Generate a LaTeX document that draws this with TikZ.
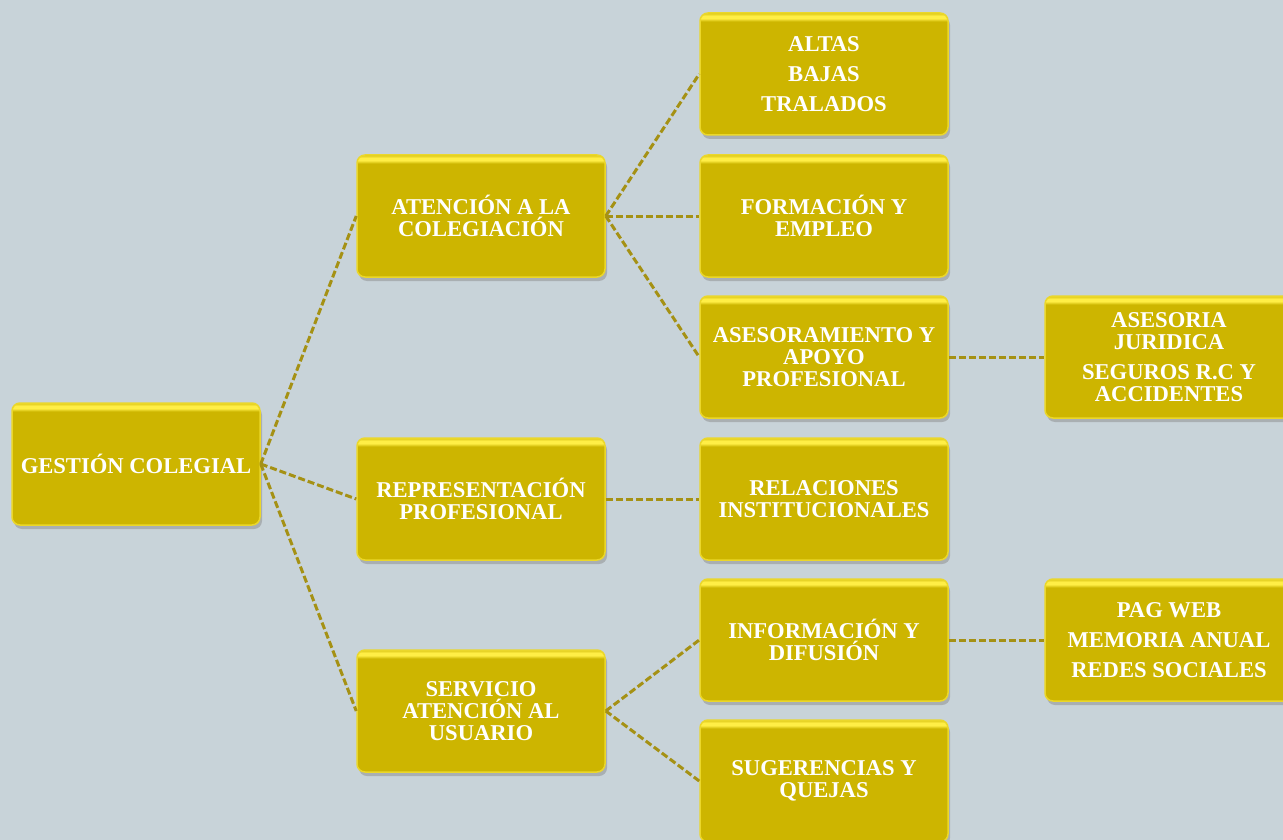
\documentclass[tikz,border=0pt]{standalone}
\usepackage{fontspec}
\setmainfont{Liberation Serif}
\usetikzlibrary{shadows}

\definecolor{fondo}{RGB}{200,211,217}
\definecolor{oro}{RGB}{205,181,0}
\definecolor{oroluz}{RGB}{255,238,70}
\definecolor{linea}{RGB}{165,145,20}
\pgfdeclareverticalshading{cajaluz}{100bp}{color(0bp)=(oro); color(71.5bp)=(oro);
  color(72.8bp)=(oroluz); color(73.8bp)=(oroluz); color(75bp)=(oro!70!oroluz); color(100bp)=(oro!70!oroluz)}

\begin{document}
\begin{tikzpicture}[x=1pt,y=1pt,
    caja/.style={rounded corners=8pt,shading=cajaluz,draw=oroluz!60!oro,line width=1.5pt,
        minimum width=248pt,minimum height=122pt,inner sep=0pt,align=center,text=white,
        font={\bfseries\fontsize{22.6}{22}\selectfont},
        drop shadow={shadow xshift=2pt,shadow yshift=-4pt,fill=black!45,opacity=.5}},
    enlace/.style={draw=linea,line width=3pt,dash pattern=on 7pt off 3pt}]
        \fill[fondo] (0,0) rectangle (1283,-840);
        \useasboundingbox (0,0) rectangle (1283,-840);

        \node[caja] (gest) at (136,-464) {GESTIÓN COLEGIAL};

        \node[caja] (aten) at (481,-216) {ATENCIÓN A LA\\COLEGIACIÓN};
        \node[caja] (repr) at (481,-499) {REPRESENTACIÓN\\PROFESIONAL};
        \node[caja] (serv) at (481,-711) {SERVICIO\\ATENCIÓN AL\\USUARIO};

        \node[caja] (altas) at (824,-74) {ALTAS\\[8pt]BAJAS\\[8pt]TRALADOS};
        \node[caja] (form) at (824,-216) {FORMACIÓN Y\\EMPLEO};
        \node[caja] (ases) at (824,-357) {ASESORAMIENTO Y\\APOYO\\PROFESIONAL};
        \node[caja] (rela) at (824,-499) {RELACIONES\\INSTITUCIONALES};
        \node[caja] (info) at (824,-640) {INFORMACIÓN Y\\DIFUSIÓN};
        \node[caja] (suge) at (824,-781) {SUGERENCIAS Y\\QUEJAS};

        \node[caja] (jurid) at (1169,-357) {ASESORIA\\JURIDICA\\[8pt]SEGUROS R.C Y\\ACCIDENTES};
        \node[caja] (web) at (1169,-640) {PAG WEB\\[8pt]MEMORIA ANUAL\\[8pt]REDES SOCIALES};

        \path[enlace]
        (gest.east) edge (aten.west)
        (gest.east) edge (repr.west)
        (gest.east) edge (serv.west)
        (aten.east) edge (altas.west)
        (aten.east) edge (form.west)
        (aten.east) edge (ases.west)
        (repr.east) edge (rela.west)
        (serv.east) edge (info.west)
        (serv.east) edge (suge.west)
        (ases.east) edge (jurid.west)
        (info.east) edge (web.west);
\end{tikzpicture}
\end{document}
